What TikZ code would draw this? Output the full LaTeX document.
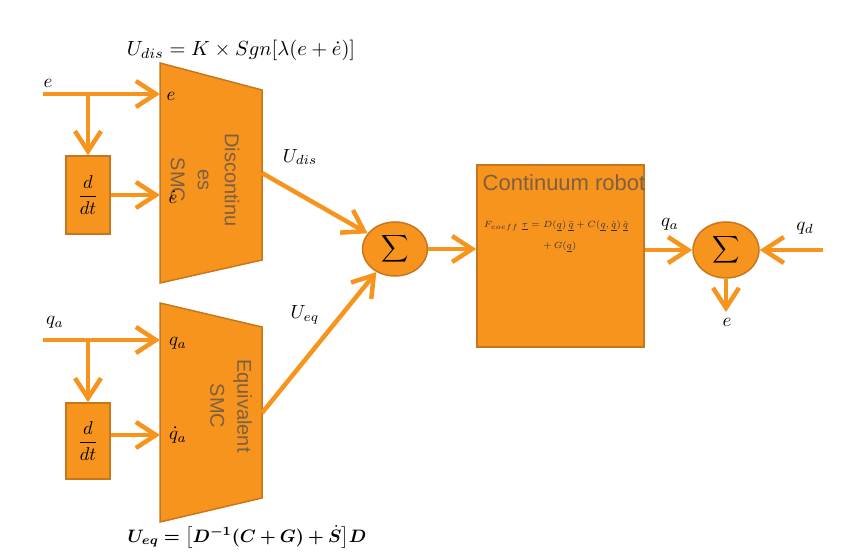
\documentclass[tikz,border=0pt]{standalone}
\usepackage{graphicx}
\usepackage{amsmath,bm}
\usepackage{fontspec}
\setsansfont{Liberation Sans}
\usetikzlibrary{arrows.meta,shapes.geometric}
\definecolor{org}{RGB}{247,148,30}
\definecolor{orgd}{RGB}{200,118,28}
\definecolor{txt}{RGB}{125,95,65}
\newcommand{\lm}[1]{\scalebox{1.9}{$#1$}}
\begin{document}
\begin{tikzpicture}[x=1pt,y=-1pt,
  flow/.style={draw=org, line width=4.5pt, -{Straight Barb[length=20pt,width=26pt]}},
  blk/.style={draw=orgd, fill=org, line width=1.5pt, minimum width=44pt, inner sep=0pt},
  trap/.style={draw=orgd, fill=org, line width=1.5pt},
  sumnode/.style={ellipse, draw=orgd, fill=org, line width=1.5pt, inner sep=0pt},
  lbl/.style={text=black, inner sep=0pt},
  rot/.style={rotate=-90, align=center, text=txt, font=\sffamily\fontsize{20}{27}\selectfont, inner sep=0pt}
]
\useasboundingbox (0,0) rectangle (868,553);

% upper trapezoid
\draw[trap] (160,63) -- (262,90) -- (262,260) -- (160,283) -- cycle;
\coordinate (t1in1) at (160,94);
\coordinate (t1in2) at (160,195);
\coordinate (t1out) at (262,173);
% lower trapezoid
\draw[trap] (160,303) -- (262,327) -- (262,498) -- (160,522) -- cycle;
\coordinate (t2in1) at (160,340);
\coordinate (t2in2) at (160,435);
\coordinate (t2out) at (262,413);

\node[rot] (txt1) at (205,180) {Discontinu\\es\\SMC};
\node[rot] (txt2) at (231,406) {Equivalent\\SMC};

% derivative boxes
\node[blk, minimum height=78pt] (d1) at (88,195) {\scalebox{1.85}{$\dfrac{d}{dt}$}};
\node[blk, minimum height=76pt] (d2) at (88,441) {\scalebox{1.85}{$\dfrac{d}{dt}$}};

% inputs
\coordinate (ein) at (43,94);
\coordinate (j1) at (88,94);
\coordinate (qin) at (43,340);
\coordinate (j2) at (88,340);
\draw[flow] (ein) -- (t1in1);
\draw[flow] (j1) -- (d1.north);
\draw[flow] (d1.east) -- (t1in2);
\draw[flow] (qin) -- (t2in1);
\draw[flow] (j2) -- (d2.north);
\draw[flow] (d2.east |- t2in2) -- (t2in2);

% sums and robot
\node[sumnode, minimum width=65pt, minimum height=54pt] (s1) at (395,249) {\scalebox{1.9}{$\displaystyle\sum$}};
\node[blk, minimum width=167pt, minimum height=182pt] (rb) at (560.5,256) {};
\node[sumnode, minimum width=66pt, minimum height=56pt] (s2) at (726,250) {\scalebox{1.9}{$\displaystyle\sum$}};

\node[text=txt, font=\sffamily\fontsize{22}{24}\selectfont, inner sep=0pt] (rbt) at (564,183) {Continuum robot};
\node[text=black!80, font=\fontsize{6.5}{8}\selectfont, inner sep=0pt] (rbf1) at (556,226) {\scalebox{1.5}{$F_{coeff}\;\underline{\tau} = D(\underline{q})\,\ddot{\underline{q}} + C(\underline{q},\dot{\underline{q}})\,\dot{\underline{q}}$}};
\node[text=black!80, font=\fontsize{6.5}{8}\selectfont, inner sep=0pt] (rbf2) at (560,247) {\scalebox{1.5}{$+\,G(\underline{q})$}};

\draw[flow] (t1out) -- (s1);
\draw[flow] (t2out) -- (s1);
\draw[flow] (s1.east) -- (s1.east -| rb.west);
\draw[flow] (rb.east |- s2) -- (s2.west);
\coordinate (qdin) at (823,250);
\draw[flow] (qdin) -- (s2.east);
\coordinate (eout) at (726,312);
\draw[flow] (s2.south) -- (eout);

% labels
\node[lbl] (le) at (48,83) {\lm{e}};
\node[lbl] (le1) at (171,96) {\lm{e}};
\node[lbl] (le2) at (173,197) {\lm{\dot e}};
\node[lbl] (lq) at (55,322) {\lm{q_a}};
\node[lbl] (lq1) at (178,343) {\lm{q_a}};
\node[lbl] (lq2) at (178,435) {\lm{\dot q_a}};
\node[lbl] (lud) at (300,157) {\lm{U_{dis}}};
\node[lbl] (lue) at (305,315) {\lm{U_{eq}}};
\node[lbl] (lqa) at (670,224) {\lm{q_a}};
\node[lbl] (lqd) at (805,228) {\lm{q_d}};
\node[lbl] (leo) at (727,322) {\lm{e}};
\node[lbl] (fdis) at (241,50) {\scalebox{2.05}{$U_{dis} = K \times Sgn[\lambda(e+\dot e)]$}};
\node[lbl] (feq) at (247,537) {\scalebox{1.8}{$\bm{U_{eq} = \bigl[D^{-1}(C+G)+\dot S\bigr]D}$}};
\end{tikzpicture}
\end{document}
